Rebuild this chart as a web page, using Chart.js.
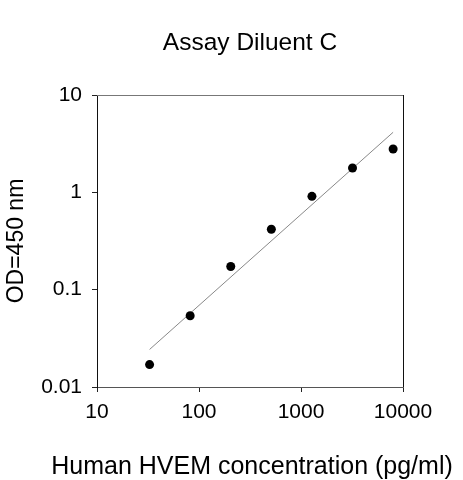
<!DOCTYPE html>
<html>
<head>
<meta charset="utf-8">
<script src="https://cdn.jsdelivr.net/npm/chart.js@4"></script>
<style>
html,body{margin:0;padding:0;background:#fff;}
#wrap{width:463px;height:480px;position:relative;}
</style>
</head>
<body>
<div id="wrap"><canvas id="c"></canvas></div>
<script>
const chartTitle = "Assay Diluent C";
const xAxisTitle = "Human HVEM concentration (pg/ml)";
const yAxisTitle = "OD=450 nm";
const concentrations = [32.77, 81.92, 204.8, 512, 1280, 3200, 8000];
const odValues = [0.017, 0.054, 0.173, 0.417, 0.91, 1.78, 2.79];
const fitX = [32.77, 8000];
const fitY = [0.0243, 4.14];
const xTickValues = [10, 100, 1000, 10000];
const xTickLabels = ["10", "100", "1000", "10000"];
const yTickValues = [0.01, 0.1, 1, 10];
const yTickLabels = ["0.01", "0.1", "1", "10"];

const FONT = "'Liberation Sans', Arial, sans-serif";

const boxPlugin = {
  id: 'box',
  afterDraw(chart) {
    const {ctx, chartArea: a} = chart;
    ctx.save();
    ctx.strokeStyle = '#777';
    ctx.lineWidth = 1;
    ctx.beginPath();
    ctx.moveTo(a.left, a.top + 0.5);
    ctx.lineTo(a.right, a.top + 0.5);
    ctx.stroke();
    ctx.strokeStyle = '#111';
    ctx.beginPath();
    ctx.moveTo(a.right + 0.5, a.top);
    ctx.lineTo(a.right + 0.5, a.bottom);
    ctx.stroke();
    ctx.fillStyle = '#000';
    ctx.textAlign = 'center';
    ctx.textBaseline = 'alphabetic';
    ctx.font = "24.5px " + FONT;
    ctx.fillText(chartTitle, (a.left + a.right) / 2, 50);
    ctx.font = "25px " + FONT;
    ctx.fillText(xAxisTitle, (a.left + a.right) / 2 + 2, 474);
    ctx.restore();
  }
};

new Chart(document.getElementById('c'), {
  data: {
    datasets: [
      {
        type: 'line',
        data: fitX.map((x, i) => ({x: x, y: fitY[i]})),
        borderColor: '#888',
        borderWidth: 1,
        pointRadius: 0,
        fill: false,
        order: 2
      },
      {
        type: 'scatter',
        data: concentrations.map((x, i) => ({x: x, y: odValues[i]})),
        backgroundColor: '#000',
        borderColor: '#000',
        pointRadius: 4.5,
        pointBorderWidth: 0,
        order: 1
      }
    ]
  },
  options: {
    responsive: true,
    maintainAspectRatio: false,
    animation: false,
    events: [],
    layout: {padding: {top: 95, right: 60, left: 0, bottom: 0}},
    plugins: {legend: {display: false}, tooltip: {enabled: false}, title: {display: false}},
    scales: {
      x: {
        type: 'logarithmic',
        min: 10, max: 10000,
        afterFit(s) { s.height = 93; },
        afterBuildTicks(s) { s.ticks = xTickValues.map(v => ({value: v})); },
        ticks: {
          autoSkip: false, maxRotation: 0, color: '#000', padding: 8,
          font: {family: FONT, size: 21},
          callback: (v) => { const i = xTickValues.indexOf(v); return i >= 0 ? xTickLabels[i] : ''; }
        },
        grid: {display: true, drawOnChartArea: false, tickLength: 5, color: '#222'},
        border: {display: true, color: '#555'},
        title: {display: false}
      },
      y: {
        type: 'logarithmic',
        min: 0.01, max: 10,
        afterFit(s) { s.width = 97; },
        afterBuildTicks(s) { s.ticks = yTickValues.map(v => ({value: v})); },
        ticks: {
          autoSkip: false, color: '#000', padding: 10,
          font: {family: FONT, size: 21},
          callback: (v) => { const i = yTickValues.indexOf(v); return i >= 0 ? yTickLabels[i] : ''; }
        },
        grid: {display: true, drawOnChartArea: false, tickLength: 5, color: '#222'},
        border: {display: true, color: '#111'},
        title: {display: true, text: yAxisTitle, color: '#000', font: {family: FONT, size: 23}, padding: {top: 3, bottom: 0}}
      }
    }
  },
  plugins: [boxPlugin]
});
</script>
</body>
</html>
